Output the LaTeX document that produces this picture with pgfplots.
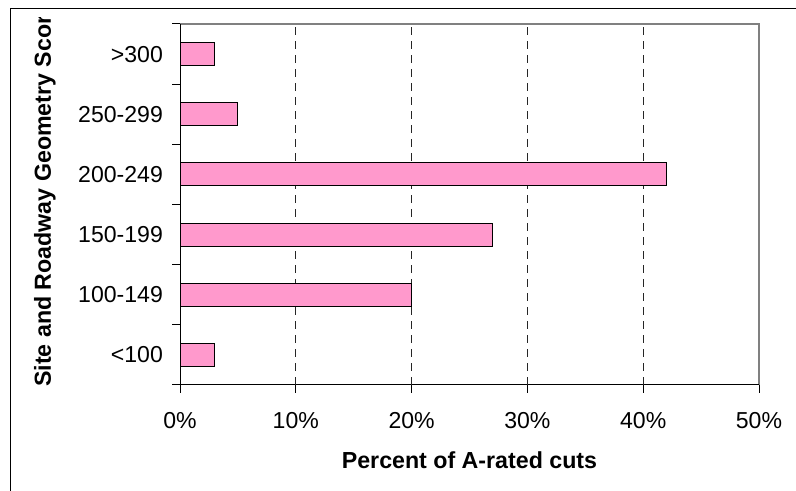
\documentclass[border=0pt]{standalone}
\usepackage{pgfplots}
\pgfplotsset{compat=1.18}
\usepackage{fontspec}
\setmainfont{Liberation Sans}
\definecolor{barpink}{HTML}{FF99CC}
\definecolor{framegray}{HTML}{808080}
\begin{document}
\begin{tikzpicture}[x=1pt,y=1pt]
\useasboundingbox (0,0) rectangle (597,368.25);
\draw[black, line width=0.75pt] (7.5,0) -- (7.5,361.5) -- (597,361.5);
\fill[framegray] (135,349.7) rectangle (569.8,350.8);
\fill[framegray] (568.7,79.5) rectangle (569.8,350.8);
\begin{scope}
\clip (0,0) rectangle (597,354.75);
\node[rotate=90, anchor=west, font=\bfseries\fontsize{17.4}{20}\selectfont, inner sep=0pt] at (33.75,78) {Site and Roadway Geometry Score};
\end{scope}
\begin{axis}[
  at={(135pt,79.5pt)}, anchor=south west,
  scale only axis, width=434.25pt, height=270.75pt,
  xmin=0, xmax=50, ymin=-0.5, ymax=5.5,
  axis x line*=bottom, axis y line*=left,
  axis line style={line width=0.75pt, -},
  xtick={0,10,...,50}, xticklabels={0\%,10\%,20\%,30\%,40\%,50\%},
  extra x ticks={10,20,30,40}, extra x tick labels={},
  extra x tick style={grid=major, major tick length=0pt},
  ytick={-0.5,0.5,...,5.5}, yticklabels={},
  extra y ticks={0,1,2,3,4,5},
  extra y tick labels={<100,100-149,150-199,200-249,250-299,>300},
  extra y tick style={major tick length=0pt, yticklabel style={xshift=-9.3pt}},
  tick align=outside, major tick length=6pt,
  tick style={black, line width=0.75pt},
  ticklabel style={font=\fontsize{17.3}{20}\selectfont},
  xticklabel style={yshift=-11pt},
  grid style={black!85, line width=0.75pt, dash pattern=on 6pt off 4.5pt},
  xlabel={Percent of A-rated cuts},
  xlabel style={at={(rel axis cs:0.5,0)}, anchor=center, yshift=-56.25pt, font=\bfseries\fontsize{17.4}{20}\selectfont},
]
\addplot[xbar, bar width=0.38, fill=barpink, draw=black, line width=0.75pt]
  coordinates {(3,0) (20,1) (27,2) (42,3) (5,4) (3,5)};
\end{axis}
\end{tikzpicture}
\end{document}
